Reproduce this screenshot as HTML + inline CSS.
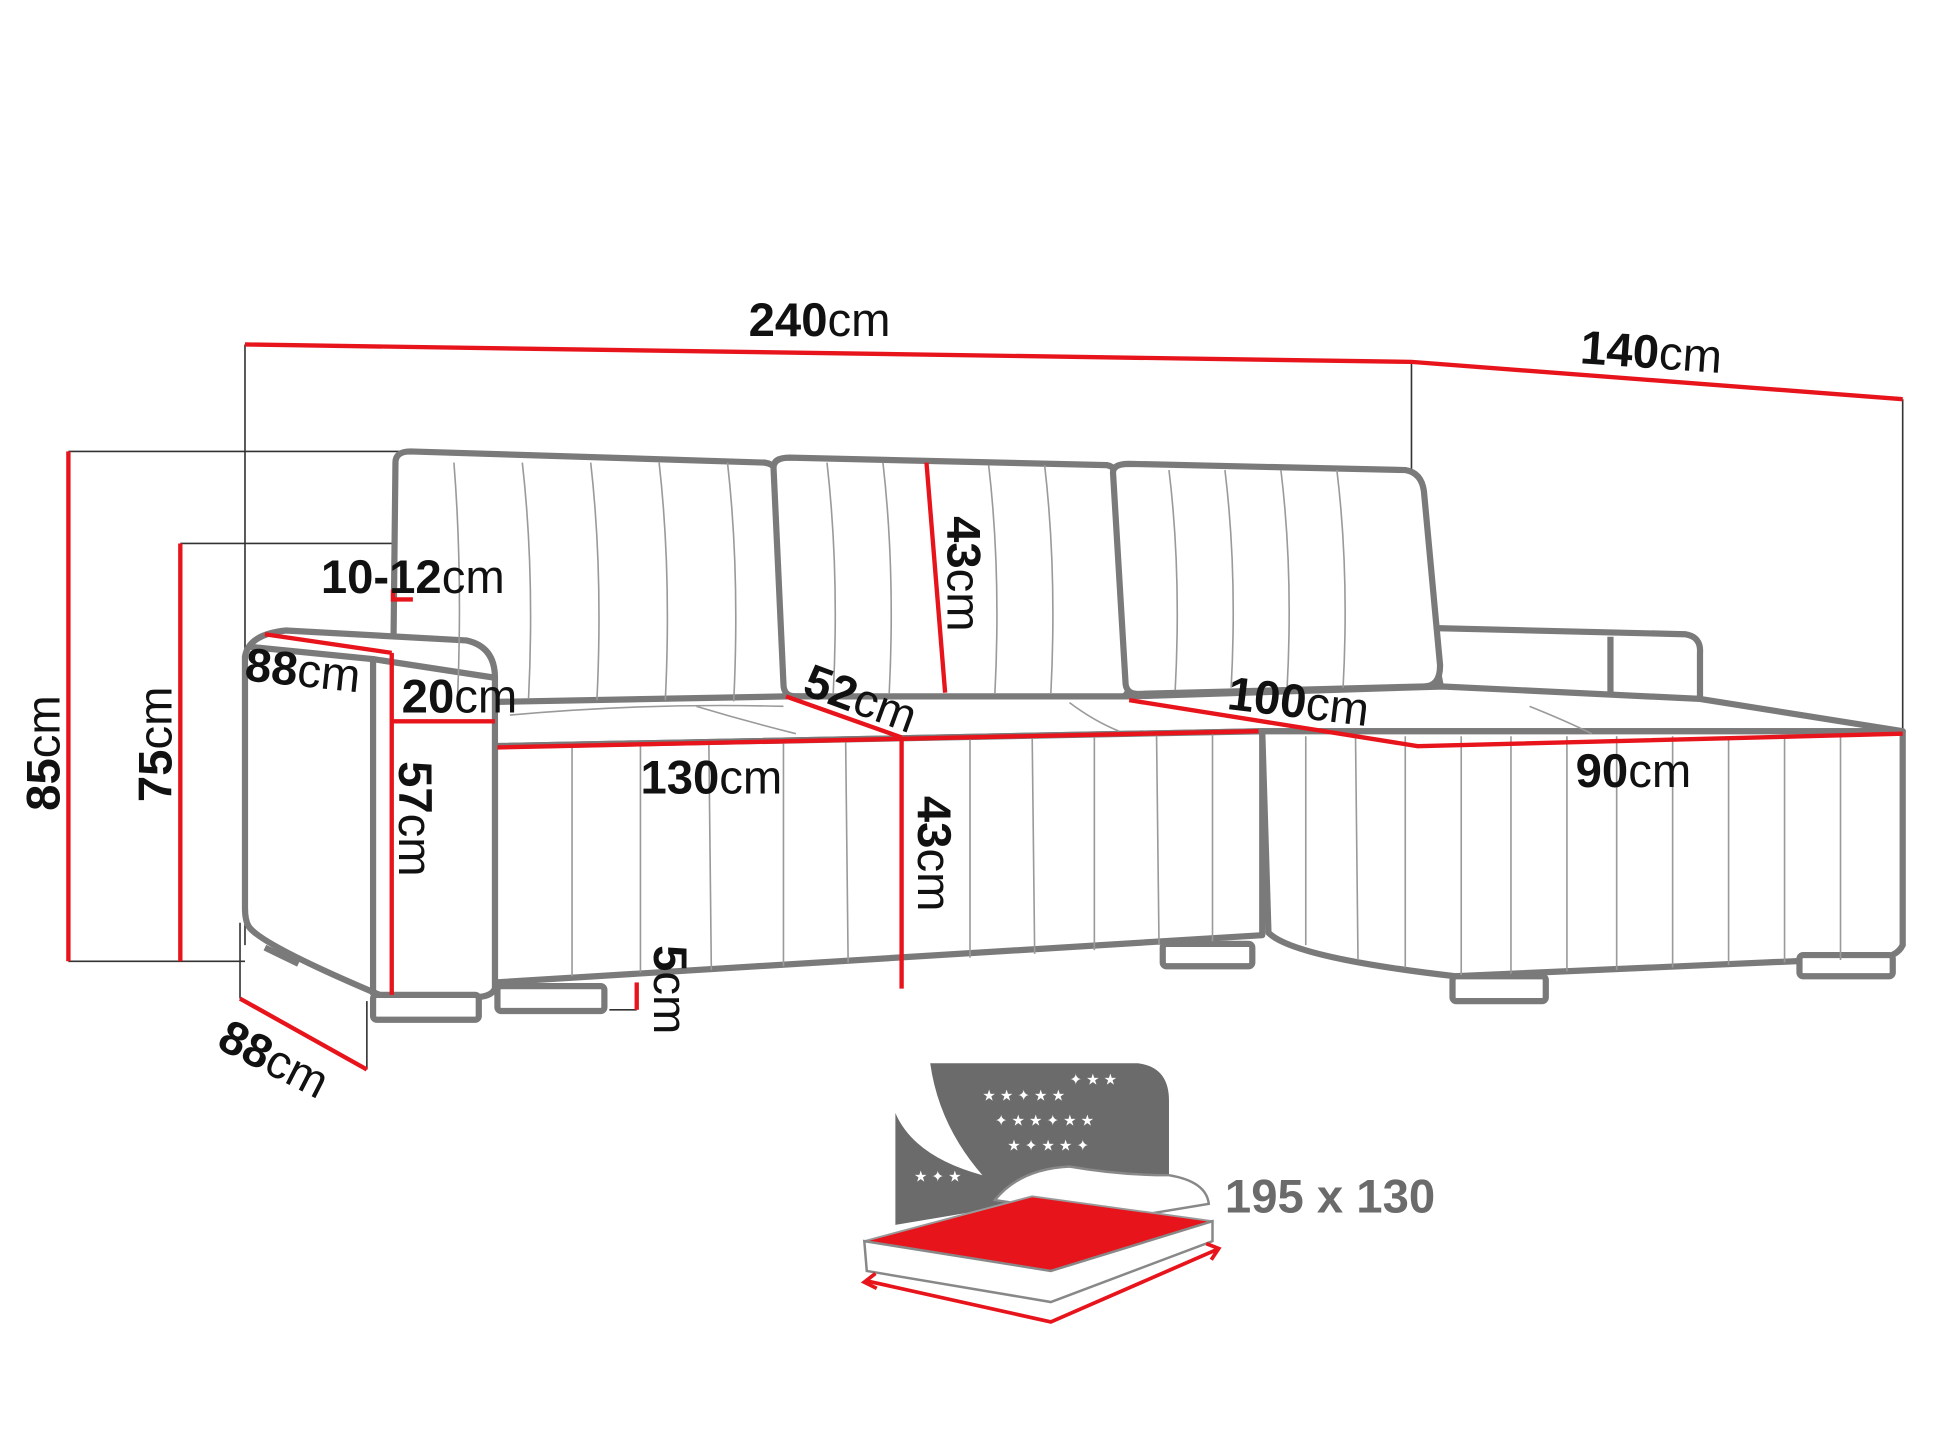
<!DOCTYPE html>
<html><head><meta charset="utf-8"><style>
html,body{margin:0;padding:0;background:#fff}
svg{display:block}
text{font-family:"Liberation Sans",sans-serif;fill:#111}
.b{font-weight:bold}
</style></head><body>
<svg width="1940" height="1455" viewBox="0 0 1560 1170" xmlns="http://www.w3.org/2000/svg">
<rect width="1560" height="1170" fill="#fff"/>
<g stroke="#333" stroke-width="1.3" fill="none">
<line x1="197" y1="277" x2="197" y2="760"/>
<line x1="1135" y1="291" x2="1135" y2="378"/>
<line x1="1530" y1="321" x2="1530" y2="588"/>
<line x1="55" y1="363" x2="325" y2="363"/>
<line x1="55" y1="773" x2="197" y2="773"/>
<line x1="145" y1="437" x2="318" y2="437"/>
<line x1="193" y1="742" x2="193" y2="803"/>
<line x1="295" y1="805" x2="295" y2="860"/>
<line x1="490" y1="812" x2="512" y2="812"/>
</g>
<g stroke="#7a7a7a" stroke-width="5" fill="#fff" stroke-linejoin="round">
<path d="M1150,505 L1355,510 Q1368,512 1367,525 L1367,562 L1160,560 Z"/>
<path d="M1295,512 L1295,560" fill="none"/>
<path d="M318,372 Q318,363 330,363 L615,372 Q628,374 628,390 L632,555 Q632,566 620,566 L325,565 Q316,565 316,555 Z"/>
<path d="M622,376 Q622,368 635,368 L890,374 Q900,376 900,390 L908,550 Q908,562 896,562 L640,560 Q630,560 630,550 Z"/>
<path d="M895,380 Q895,373 908,373 L1130,378 Q1143,380 1145,395 L1158,535 Q1158,552 1145,552 L915,558 Q905,558 905,548 Z"/>
<path d="M316,566 L632,560 L908,560 L1160,552 L1367,562 L1530,588 L1015,588 L398,600 Z"/>
<path d="M398,600 L1015,588 L1015,752 L398,790 Z"/>
<path d="M1015,588 L1530,588 L1530,760 Q1525,770 1510,770 L1170,785 Q1040,770 1020,750 L1015,588 Z"/>
<path d="M197,528 Q200,510 230,507 L375,515 Q398,520 398,545 L398,795 Q395,802 380,802 L310,802 Q210,760 200,745 Q197,740 197,730 Z"/>
<path d="M200,520 L300,530 L300,800" fill="none"/>
<path d="M300,530 L398,545" fill="none"/>
<rect x="300" y="800" width="85" height="20" rx="3"/>
<rect x="400" y="793" width="86" height="20" rx="3"/>
<rect x="935" y="759" width="72" height="18" rx="3"/>
<rect x="1168" y="785" width="75" height="20" rx="3"/>
<rect x="1447" y="768" width="75" height="17" rx="3"/>
<path d="M213,762 L240,775" fill="none"/>
</g>
<g stroke="#9a9a9a" stroke-width="1.3" fill="none">
<path d="M365,372 Q372,460 368,560 M420,372 Q430,460 425,562 M475,372 Q485,460 480,563 M530,372 Q540,460 535,563 M585,372 Q595,460 590,564"/>
<path d="M665,372 Q675,460 670,558 M710,372 Q720,460 715,558 M795,374 Q805,460 800,558 M840,374 Q850,460 845,558"/>
<path d="M940,378 Q950,460 945,555 M985,378 Q995,460 990,553 M1030,378 Q1040,460 1035,553 M1075,378 Q1085,460 1080,553"/>
<path d="M460,600 L460,785 M515,598 L515,782 M570,597 L572,780 M630,596 L630,777 M680,595 L682,774 M780,593 L780,770 M830,592 L832,767 M880,591 L880,764 M930,590 L932,760 M975,589 L975,757"/>
<path d="M1050,592 L1050,760 M1090,592 L1092,772 M1130,592 L1130,778 M1175,592 L1175,784 M1215,592 L1215,783 M1260,592 L1260,781 M1300,592 L1300,780 M1345,592 L1345,778 M1390,592 L1390,776 M1435,592 L1435,774 M1480,592 L1480,772"/>
<path d="M410,575 Q520,565 630,568 M560,568 Q600,580 640,590 M860,565 Q880,580 900,588 M1230,568 Q1260,580 1280,590"/>
</g>
<g stroke="#e8141c" stroke-width="3.5" fill="none">
<polyline points="197,277 1135,291 1530,321"/>
<line x1="55" y1="363" x2="55" y2="773"/>
<line x1="145" y1="437" x2="145" y2="773"/>
<polyline points="316,474 316,482 332,482"/>
<line x1="213" y1="510" x2="315" y2="525"/>
<line x1="315" y1="580" x2="398" y2="580"/>
<line x1="315" y1="525" x2="315" y2="800"/>
<line x1="400" y1="601" x2="1012" y2="588"/>
<line x1="632" y1="560" x2="725" y2="593"/>
<line x1="745" y1="372" x2="760" y2="557"/>
<line x1="725" y1="593" x2="725" y2="795"/>
<polyline points="908,563 1140,600 1530,590"/>
<line x1="512" y1="790" x2="512" y2="812"/>
<line x1="193" y1="803" x2="295" y2="860"/>
</g>
<g font-size="38">
<text x="602" y="270"><tspan class="b">240</tspan>cm</text>
<text x="1270" y="292" transform="rotate(4 1270 292)"><tspan class="b">140</tspan>cm</text>
<text x="258" y="477"><tspan class="b">10-12</tspan>cm</text>
<text x="196" y="547" transform="rotate(6 196 547)"><tspan class="b">88</tspan>cm</text>
<text x="323" y="573"><tspan class="b">20</tspan>cm</text>
<text x="644" y="558" transform="rotate(20 644 558)"><tspan class="b">52</tspan>cm</text>
<text x="986" y="570" transform="rotate(7 986 570)"><tspan class="b">100</tspan>cm</text>
<text x="515" y="638"><tspan class="b">130</tspan>cm</text>
<text x="1267" y="633"><tspan class="b">90</tspan>cm</text>
<text x="762" y="415" transform="rotate(90 762 415)"><tspan class="b">43</tspan>cm</text>
<text x="738" y="640" transform="rotate(90 738 640)"><tspan class="b">43</tspan>cm</text>
<text x="321" y="612" transform="rotate(90 321 612)"><tspan class="b">57</tspan>cm</text>
<text x="526" y="760" transform="rotate(90 526 760)"><tspan class="b">5</tspan>cm</text>
<text x="48" y="652" transform="rotate(-90 48 652)"><tspan class="b">85</tspan>cm</text>
<text x="138" y="645" transform="rotate(-90 138 645)"><tspan class="b">75</tspan>cm</text>
<text x="173" y="842" transform="rotate(27 173 842)"><tspan class="b">88</tspan>cm</text>
</g>
<path d="M748,855 L915,855 Q940,858 940,885 L940,948 L720,985 L720,895 Q735,930 790,945 Q755,905 748,855 Z" fill="#6b6b6b"/>
<g font-size="12">
<text x="790" y="885" style="fill:#fff">★ ★ ✦ ★ ★</text>
<text x="800" y="905" style="fill:#fff">✦ ★ ★ ✦ ★ ★</text>
<text x="810" y="925" style="fill:#fff">★ ✦ ★ ★ ✦</text>
<text x="735" y="950" style="fill:#fff">★ ✦ ★</text>
<text x="860" y="872" style="fill:#fff">✦ ★ ★</text>
</g>
<path d="M800,965 Q820,940 860,938 Q900,945 940,945 Q970,950 972,968 L900,980 Z" fill="#fff" stroke="#888" stroke-width="2"/>
<path d="M695,998 L830,962 L975,982 L845,1022 Z" fill="#e8141c" stroke="#999" stroke-width="1.5"/>
<path d="M695,998 L845,1022 L975,982 L975,998 L845,1047 L697,1022 Z" fill="#fff" stroke="#888" stroke-width="2"/>
<g stroke="#e8141c" stroke-width="3" fill="none">
<polyline points="697,1030 845,1063 978,1005"/>
<path d="M704,1024 L695,1031 L705,1036 M970,1000 L980,1004 L974,1013"/>
</g>
<text x="985" y="975" font-size="38" class="b" style="fill:#6b6b6b">195 x 130</text>
</svg>
</body></html>
